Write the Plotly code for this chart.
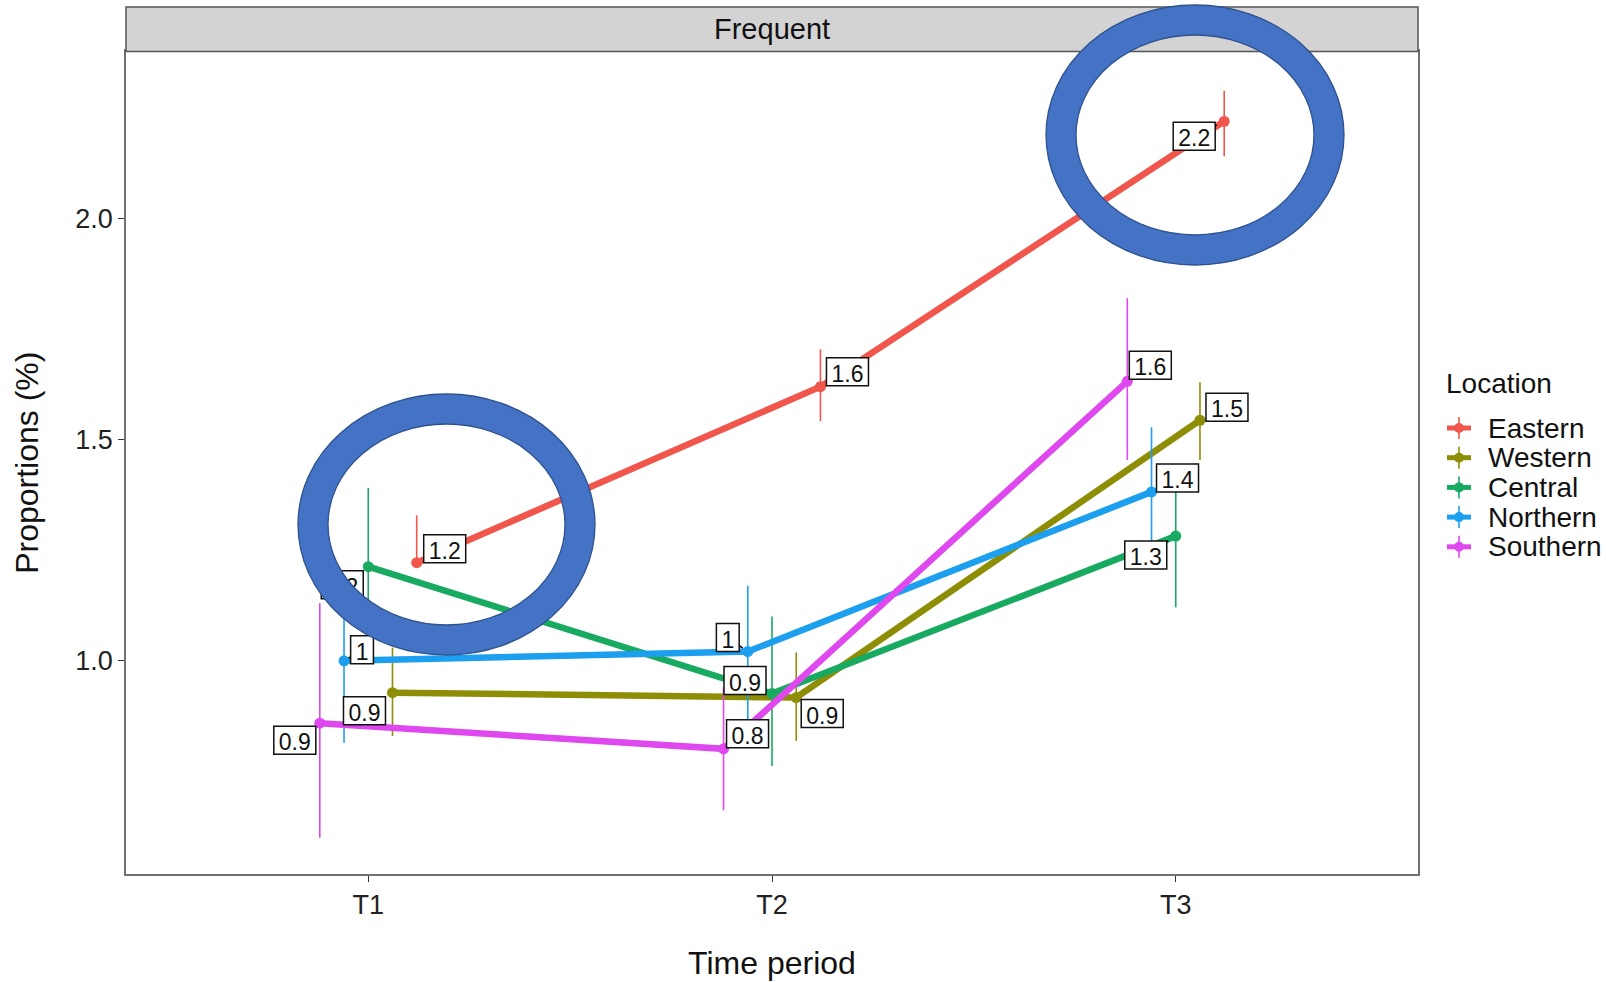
import plotly.graph_objects as go

# ---------------- data ----------------
periods = ["T1", "T2", "T3"]
locations = ["Eastern", "Western", "Central", "Northern", "Southern"]

eastern = [1.222, 1.620, 2.220]
western = [0.928, 0.917, 1.544]
central = [1.213, 0.926, 1.282]
northern = [1.000, 1.021, 1.382]
southern = [0.859, 0.801, 1.632]

eastern_hi = [1.329, 1.704, 2.289]
eastern_lo = [1.215, 1.542, 2.141]
western_hi = [1.030, 1.019, 1.630]
western_lo = [0.830, 0.819, 1.454]
central_hi = [1.391, 1.100, 1.386]
central_lo = [1.035, 0.762, 1.121]
northern_hi = [1.185, 1.170, 1.528]
northern_lo = [0.815, 0.860, 1.236]
southern_hi = [1.130, 0.940, 1.820]
southern_lo = [0.600, 0.662, 1.454]

# ---------------- style ----------------
FONT = "Liberation Sans"
colors = {"Eastern": "#F0564B", "Western": "#8E8E06", "Central": "#18AA60",
          "Northern": "#1C9FEE", "Southern": "#DE48EE"}
dodge = {"Eastern": 0.12, "Western": 0.06, "Central": 0.0, "Northern": -0.06, "Southern": -0.12}
# label offsets in pixels (dx, dy up-positive)
label_off = {
    "Eastern": [(28, 14), (27, 15), (-30, -15)],
    "Western": [(-28, -18), (26, -16), (27, 13)],
    "Central": [(-26, -18), (-27, 13), (-30, -19)],
    "Northern": [(18, 11), (-20, 14), (26, 14)],
    "Southern": [(-25, -17), (24, 15), (23, 16)],
}

series = {"Eastern": (eastern, eastern_hi, eastern_lo),
          "Western": (western, western_hi, western_lo),
          "Central": (central, central_hi, central_lo),
          "Northern": (northern, northern_hi, northern_lo),
          "Southern": (southern, southern_hi, southern_lo)}

W, H = 1606, 982
ML, MR, MT, MB = 126, 188, 7, 108
PW, PH = W - ML - MR, H - MT - MB
PANEL_TOP = 51.4
DOM_TOP = (H - MB - PANEL_TOP) / PH
XR = [0.4, 3.6]
YR = [0.518, 2.378]
PANEL_H = H - MB - PANEL_TOP
XS = (XR[1] - XR[0]) / PW       # data units per pixel
YS = (YR[1] - YR[0]) / PANEL_H


def px(x):
    return (x - ML) / PW


def py(y):
    return (H - MB - y) / PH


fig = go.Figure()
shapes = []
annotations = []

for loc in locations:
    vals, hi, lo = series[loc]
    xs = [i + 1 + dodge[loc] for i in range(len(periods))]
    fig.add_trace(go.Scatter(
        x=xs, y=vals, name=loc, mode="lines+markers", showlegend=False,
        line=dict(color=colors[loc], width=6.5),
        marker=dict(color=colors[loc], size=11),
        error_y=dict(type="data", symmetric=False,
                     array=[h - v for h, v in zip(hi, vals)],
                     arrayminus=[v - l for l, v in zip(lo, vals)],
                     color=colors[loc], thickness=1.6, width=0),
    ))


def label_text(v):
    r = round(v, 1)
    return f"{r:g}"


def text_w(t):
    w = 0
    for c in t:
        w += 6.4 if c == "." else 12.8
    return w + 10


for loc in locations:
    vals = series[loc][0]
    for i, v in enumerate(vals):
        x = i + 1 + dodge[loc]
        dx, dy = label_off[loc][i]
        t = label_text(v)
        w, h = text_w(t), 28
        shapes.append(dict(type="line", xref="x", yref="y",
                           x0=x + 0.25 * dx * XS, y0=v + 0.25 * dy * YS,
                           x1=x + dx * XS, y1=v + dy * YS,
                           line=dict(color="black", width=1.6), layer="above"))
        shapes.append(dict(type="rect", xref="x", yref="y",
                           x0=x + (dx - w / 2) * XS, x1=x + (dx + w / 2) * XS,
                           y0=v + (dy - h / 2) * YS, y1=v + (dy + h / 2) * YS,
                           line=dict(color="#111", width=1.5), fillcolor="white", layer="above",
                           label=dict(text=t, font=dict(family=FONT, size=23, color="#111"),
                                      textposition="middle center")))

# strip
shapes.append(dict(type="rect", xref="paper", yref="paper", x0=0, x1=1, y0=DOM_TOP, y1=1,
                   fillcolor="#D3D3D3", line=dict(color="#555", width=1.5), layer="above"))
annotations.append(dict(text="Frequent", xref="paper", yref="paper", x=0.5, y=(DOM_TOP + 1) / 2,
                        showarrow=False, font=dict(size=29, color="#111"), yanchor="middle"))


# highlight rings
def ring(x0, x1, y0, y1, t):
    out = []
    out.append(dict(type="circle", xref="paper", yref="paper",
                    x0=px(x0 + t / 2), x1=px(x1 - t / 2), y0=py(y1 - t / 2), y1=py(y0 + t / 2),
                    line=dict(color="#4472C4", width=t), fillcolor="rgba(0,0,0,0)", layer="above"))
    out.append(dict(type="circle", xref="paper", yref="paper",
                    x0=px(x0), x1=px(x1), y0=py(y1), y1=py(y0),
                    line=dict(color="#2F528F", width=1.3), fillcolor="rgba(0,0,0,0)", layer="above"))
    out.append(dict(type="circle", xref="paper", yref="paper",
                    x0=px(x0 + t), x1=px(x1 - t), y0=py(y1 - t), y1=py(y0 + t),
                    line=dict(color="#2F528F", width=1.3), fillcolor="rgba(0,0,0,0)", layer="above"))
    return out


shapes += ring(298, 595, 394, 655, 30)
shapes += ring(1046, 1344, 5, 265, 30)

# custom legend (ggplot style)
annotations.append(dict(text="Location", xref="paper", yref="paper", x=px(1444), y=py(384),
                        xanchor="left", yanchor="middle", showarrow=False,
                        font=dict(size=28, color="#111")))
for k, loc in enumerate(locations):
    yc = 428 + k * 29.7
    shapes.append(dict(type="line", xref="paper", yref="paper", x0=px(1447), x1=px(1471),
                       y0=py(yc), y1=py(yc), line=dict(color=colors[loc], width=5)))
    shapes.append(dict(type="line", xref="paper", yref="paper", x0=px(1459), x1=px(1459),
                       y0=py(yc - 11), y1=py(yc + 11), line=dict(color=colors[loc], width=1.6)))
    shapes.append(dict(type="circle", xref="paper", yref="paper", x0=px(1454), x1=px(1464),
                       y0=py(yc + 5), y1=py(yc - 5), fillcolor=colors[loc], line=dict(width=0)))
    annotations.append(dict(text=loc, xref="paper", yref="paper", x=px(1486), y=py(yc),
                            xanchor="left", yanchor="middle", showarrow=False,
                            font=dict(size=28, color="#111")))

fig.update_layout(
    width=W, height=H,
    margin=dict(l=ML, r=MR, t=MT, b=MB),
    paper_bgcolor="white", plot_bgcolor="white",
    font=dict(family=FONT, color="#1a1a1a"),
    shapes=shapes,
    annotations=annotations,
    showlegend=False,
)

fig.update_xaxes(range=XR, tickvals=[1, 2, 3], ticktext=periods,
                 showgrid=False, zeroline=False, showline=True, mirror=True,
                 linecolor="#707070", linewidth=1.5, ticks="outside", ticklen=6, tickcolor="#333",
                 tickfont=dict(size=27, color="#222"),
                 title=dict(text="Time period", font=dict(size=32, color="#111"), standoff=32))
fig.update_yaxes(range=YR, tickvals=[1.0, 1.5, 2.0], ticktext=["1.0", "1.5", "2.0"],
                 domain=[0, DOM_TOP],
                 showgrid=False, zeroline=False, showline=True, mirror=True,
                 linecolor="#707070", linewidth=1.5, ticks="outside", ticklen=6, tickcolor="#333",
                 tickfont=dict(size=27, color="#222"),
                 title=dict(text="Proportions (%)", font=dict(size=32, color="#111"), standoff=27))

fig.write_html("out.html", config={"displayModeBar": False},
               post_script="document.body.style.margin='0';document.body.style.padding='0';")
